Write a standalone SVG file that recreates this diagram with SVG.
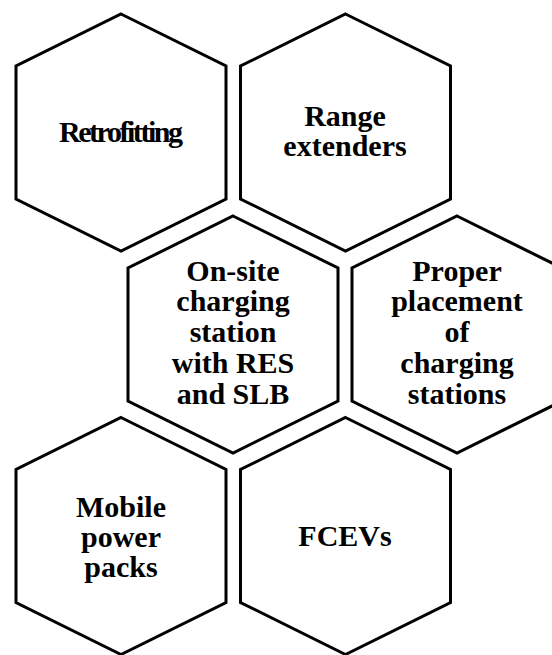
<svg xmlns="http://www.w3.org/2000/svg" xmlns:xlink="http://www.w3.org/1999/xlink" width="552" height="655" viewBox="0 0 552 655">
  <style>
    .hex { fill: #ffffff; stroke: #000000; stroke-width: 3; stroke-linejoin: miter; }
    .lbl { font-weight: bold; font-size: 30px; fill: #000000; text-anchor: middle; }
  </style>
  <defs>
    <polygon id="hexshape" class="hex" points="0,-118.5 105,-66.5 105,66.5 0,118.5 -105,66.5 -105,-66.5"/>
  </defs>
  <rect width="552" height="655" fill="#ffffff"/>
  <g id="node-retrofitting" font-family="'Liberation Serif', 'DejaVu Serif', serif">
    <use xlink:href="#hexshape" x="121" y="132.5"/>
    <text class="lbl" x="121" y="141.7" textLength="124" lengthAdjust="spacing">Retrofitting</text>
  </g>
  <g id="node-range-extenders" font-family="'Liberation Serif', 'DejaVu Serif', serif">
    <use xlink:href="#hexshape" x="345.5" y="132.5"/>
    <text class="lbl" x="345" y="126">Range</text>
    <text class="lbl" x="345" y="156">extenders</text>
  </g>
  <g id="node-onsite" font-family="'Liberation Serif', 'DejaVu Serif', serif">
    <use xlink:href="#hexshape" x="233" y="334.5"/>
    <text class="lbl" x="233" y="280.7">On-site</text>
    <text class="lbl" x="233" y="311.3">charging</text>
    <text class="lbl" x="233" y="342">station</text>
    <text class="lbl" x="233" y="372.8">with RES</text>
    <text class="lbl" x="233" y="403.6">and SLB</text>
  </g>
  <g id="node-placement" font-family="'Liberation Serif', 'DejaVu Serif', serif">
    <use xlink:href="#hexshape" x="457" y="334.5"/>
    <text class="lbl" x="457" y="280.7">Proper</text>
    <text class="lbl" x="457" y="311.3">placement</text>
    <text class="lbl" x="457" y="342">of</text>
    <text class="lbl" x="457" y="372.8">charging</text>
    <text class="lbl" x="457" y="403.6">stations</text>
  </g>
  <g id="node-mobile" font-family="'Liberation Serif', 'DejaVu Serif', serif">
    <use xlink:href="#hexshape" x="121" y="536"/>
    <text class="lbl" x="121" y="516.5">Mobile</text>
    <text class="lbl" x="121" y="546.5">power</text>
    <text class="lbl" x="121" y="576.5">packs</text>
  </g>
  <g id="node-fcevs" font-family="'Liberation Serif', 'DejaVu Serif', serif">
    <use xlink:href="#hexshape" x="345.5" y="536"/>
    <text class="lbl" x="345" y="546">FCEVs</text>
  </g>
</svg>
